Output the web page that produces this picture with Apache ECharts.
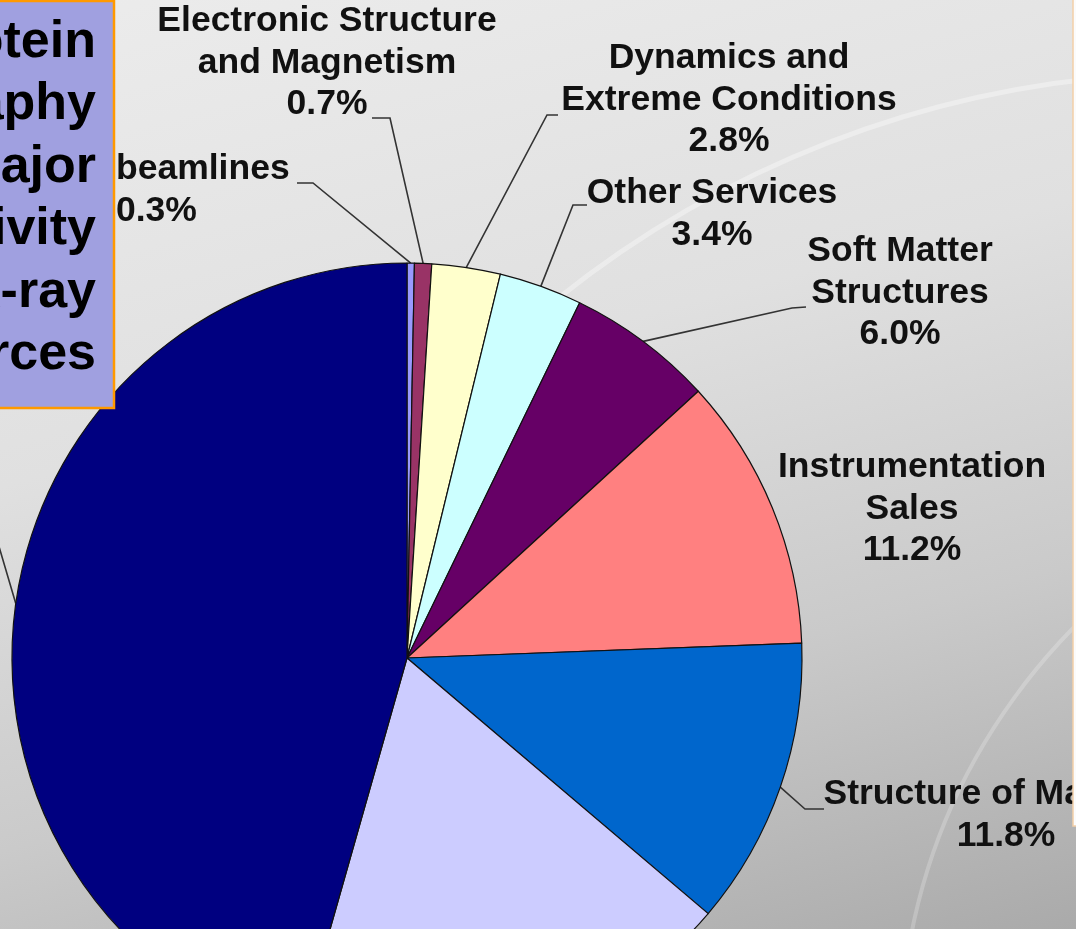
<!DOCTYPE html>
<html>
<head>
<meta charset="utf-8">
<script src="https://cdn.jsdelivr.net/npm/echarts@6/dist/echarts.min.js"></script>
<style>
html, body { margin: 0; padding: 0; width: 1076px; height: 929px; overflow: hidden; }
body { position: relative; background: linear-gradient(165deg, #ececec 0%, #e0e0e0 40%, #cacaca 70%, #aaaaaa 100%); }
#chart { position: absolute; left: -400px; top: 0; width: 1900px; height: 1300px; }
</style>
</head>
<body>
<div id="chart"></div>
<script>
// ---- data ----
const categories = [
  'beamlines',
  'Electronic Structure\nand Magnetism',
  'Dynamics and\nExtreme Conditions',
  'Other Services',
  'Soft Matter\nStructures',
  'Instrumentation\nSales',
  'Structure of Materials',
  'X-ray Imaging',
  'Protein Crystallography'
];
const shares = [0.3, 0.7, 2.8, 3.4, 6.0, 11.2, 11.8, 18.2, 45.6];
const sliceColors = ['#9999FF', '#993366', '#FFFFCC', '#CCFFFF', '#660066', '#FF8080', '#0066CC', '#CCCCFF', '#000080'];
const noteLines = ['Protein', 'Crystallography', 'is the major', 'activity', 'at X-ray', 'sources'];

// ---- layout (page coordinates; container is shifted left by OX) ----
const OX = 400;
const labelPlacement = [
  { x: 116, y: 190, align: 'left', bend: [313, 183], end: [297, 183] },
  { x: 327, y: 63, align: 'center', bend: [390, 118], end: [372, 118] },
  { x: 729, y: 100, align: 'center', bend: [547, 115], end: [558, 115] },
  { x: 712, y: 214, align: 'center', bend: [573, 205], end: [587, 205] },
  { x: 900, y: 293, align: 'center', bend: [792, 308], end: [806, 307] },
  { x: 912, y: 509, align: 'center' },
  { x: 1006, y: 815, align: 'center', bend: [805, 809], end: [824, 809] },
  { x: 560, y: 1100, align: 'center', bend: [545, 1070], end: [560, 1070] },
  { x: -220, y: 470, align: 'center', bend: [-20, 482], end: [-40, 482] }
];

const chart = echarts.init(document.getElementById('chart'), null, { renderer: 'canvas' });

const pieData = categories.map((name, i) => {
  const item = { name: name, value: shares[i], itemStyle: { color: sliceColors[i] } };
  if (!labelPlacement[i].bend) item.labelLine = { show: false };
  return item;
});

const labelFont = { fontFamily: 'Liberation Sans', fontWeight: 'bold', fontSize: 35.5, lineHeight: 41.5, color: '#111' };

chart.setOption({
  animation: false,
  backgroundColor: 'transparent',
  graphic: [
    {
      type: 'arc', z: -10, silent: true,
      shape: { cx: 1200 + OX, cy: 1100, r: 1027, startAngle: Math.PI * 1.18, endAngle: Math.PI * 1.56 },
      style: { stroke: 'rgba(255,255,255,0.35)', lineWidth: 5, fill: null }
    },
    {
      type: 'arc', z: -10, silent: true,
      shape: { cx: 1500 + OX, cy: 1050, r: 600, startAngle: Math.PI * 1.05, endAngle: Math.PI * 1.35 },
      style: { stroke: 'rgba(255,255,255,0.22)', lineWidth: 4, fill: null }
    },
    {
      type: 'group', z: 100,
      children: [
        {
          type: 'rect', z: 100,
          shape: { x: -20 + OX, y: 1, width: 134, height: 407 },
          style: { fill: '#a0a0e0', stroke: '#ff9900', lineWidth: 2.5 }
        },
        {
          type: 'text', z: 101,
          style: {
            x: 96 + OX, y: 11,
            text: noteLines.join('\n'),
            font: 'bold 52px "Liberation Sans", Arial, sans-serif',
            lineHeight: 62.5,
            fill: '#000',
            textAlign: 'right',
            textVerticalAlign: 'top'
          }
        }
      ]
    },
    {
      type: 'rect', z: 100,
      shape: { x: 1073 + OX, y: -5, width: 300, height: 831 },
      style: { fill: '#fbfbfb', stroke: '#f4cfa8', lineWidth: 1.5 }
    }
  ],
  series: [{
    type: 'pie',
    center: [407 + OX, 658],
    radius: 395,
    startAngle: 90,
    clockwise: true,
    avoidLabelOverlap: false,
    emphasis: { disabled: true },
    itemStyle: { borderColor: '#111', borderWidth: 1.2 },
    label: Object.assign({
      show: true,
      position: 'outside',
      overflow: 'none',
      formatter: p => p.name + '\n' + p.value.toFixed(1) + '%'
    }, labelFont),
    labelLine: { show: true, length: 20, length2: 15, lineStyle: { color: '#333', width: 1.6 } },
    labelLayout: function (params) {
      const c = labelPlacement[params.dataIndex];
      const out = { x: c.x + OX, y: c.y, align: c.align, verticalAlign: 'middle' };
      if (c.bend && params.labelLinePoints) {
        out.labelLinePoints = [
          params.labelLinePoints[0],
          [c.bend[0] + OX, c.bend[1]],
          [c.end[0] + OX, c.end[1]]
        ];
      }
      return out;
    },
    data: pieData
  }]
});
</script>
</body>
</html>
